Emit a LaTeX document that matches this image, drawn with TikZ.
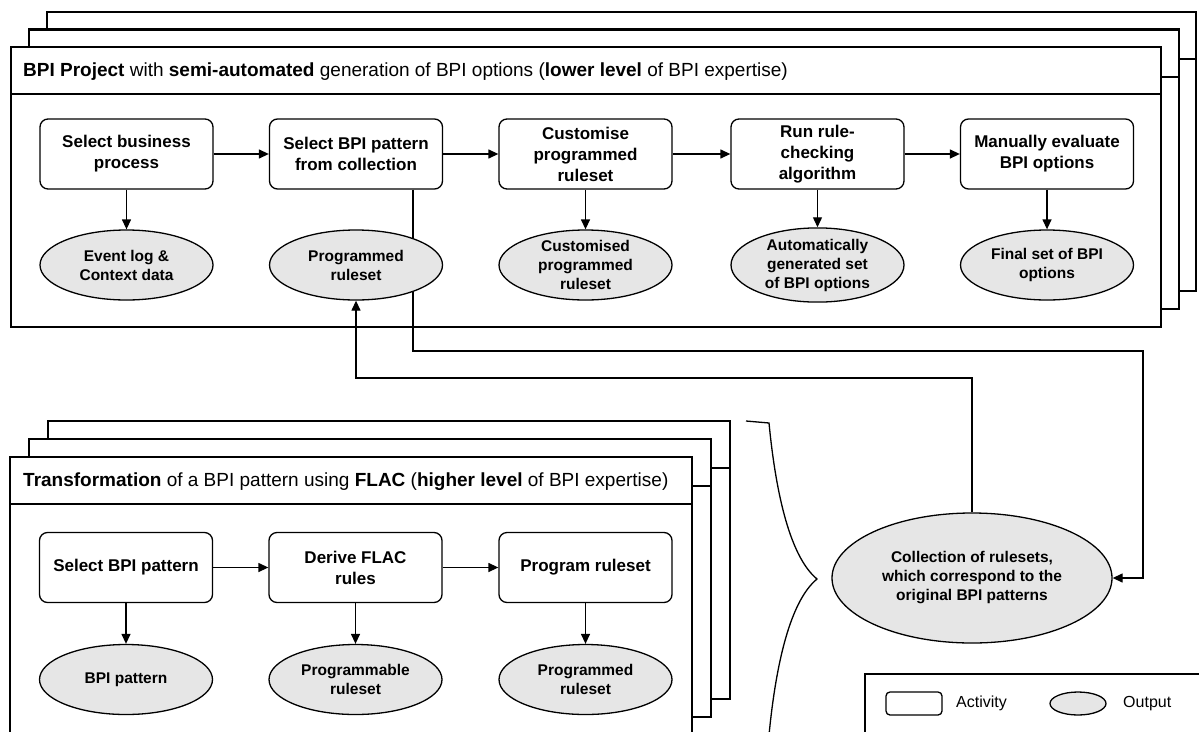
\documentclass[tikz,border=0pt]{standalone}
\usepackage{fontspec}
\setmainfont{Liberation Sans}
\usetikzlibrary{shapes.geometric,arrows.meta}
\definecolor{outfill}{HTML}{E6E6E6}
\pgfdeclarelayer{framelayer}
\pgfdeclarelayer{linelayer}
\pgfsetlayers{framelayer,linelayer,main}
\tikzset{
  frame/.style={draw=black, line width=2.4pt, fill=white},
  divider/.style={draw=black, line width=2.4pt},
  act/.style={draw=black, line width=1.3pt, rounded corners=8pt, fill=white,
    minimum width=173pt, minimum height=70pt, inner sep=2pt, align=center,
    font=\fontsize{17}{21}\selectfont\bfseries},
  outp/.style={ellipse, draw=black, line width=1.3pt, fill=outfill,
    minimum width=173pt, minimum height=70pt, inner sep=0pt, align=center,
    font=\fontsize{15.5}{19}\selectfont\bfseries},
  arr/.style={line width=1.3pt, -{Triangle[length=10pt,width=9pt]}},
  conn/.style={line width=1.3pt},
  hdr/.style={anchor=west, inner sep=0pt, font=\fontsize{19}{22}\selectfont},
  legtxt/.style={anchor=west, inner sep=0pt, font=\fontsize{16}{19}\selectfont}
}
\begin{document}
\begin{tikzpicture}[x=1pt,y=-1pt]
\clip (0,0) rectangle (1199,731);
\useasboundingbox (0,0) rectangle (1199,731);

% ---------- frames ----------
\begin{pgfonlayer}{framelayer}
% top stack
\draw[frame] (47,12) rectangle (1196,291);
\draw[divider] (47,59) -- (1196,59);
\draw[frame] (29,29.5) rectangle (1179,309);
\draw[divider] (29,77) -- (1179,77);
\draw[frame] (11,47) rectangle (1161,327);
\draw[divider] (11,94) -- (1161,94);
% bottom stack
\draw[frame] (48,421) rectangle (730,699);
\draw[divider] (48,468) -- (730,468);
\draw[frame] (29,439) rectangle (711,717);
\draw[divider] (29,486) -- (711,486);
\draw[frame] (10,457) rectangle (692,735);
\draw[divider] (10,504) -- (692,504);
% legend frame
\draw[line width=1.3pt, fill=white] (865,674) rectangle (1215,760);
\end{pgfonlayer}

% ---------- headers ----------
\node[hdr] (h1) at (23,72) {\textbf{BPI Project} with \textbf{semi-automated} generation of BPI options (\textbf{lower level} of BPI expertise)};
\node[hdr] (h2) at (23,482) {\textbf{Transformation} of a BPI pattern using \textbf{FLAC} (\textbf{higher level} of BPI expertise)};

% ---------- top row ----------
\node[act] (a1) at (126.5,154) {Select business\\process};
\node[act] (a2) at (356,154) {Select BPI pattern\\from collection};
\node[act] (a3) at (585.5,154) {Customise\\programmed\\ruleset};
\node[act] (a4) at (817.5,154) {Run rule-\\checking\\algorithm};
\node[act] (a5) at (1047,154) {Manually evaluate\\BPI options};

\node[outp] (e1) at (126.5,265) {Event log \&\\Context data};
\node[outp] (e2) at (356,265) {Programmed\\ruleset};
\node[outp] (e3) at (585.5,265) {Customised\\programmed\\ruleset};
\node[outp] (e4) at (817.5,265) {Automatically\\generated set\\of BPI options};
\node[outp] (e5) at (1047,265) {Final set of BPI\\options};

% ---------- bottom row ----------
\node[act] (b1) at (126,567.5) {Select BPI pattern};
\node[act] (b2) at (355.5,567.5) {Derive FLAC\\rules};
\node[act] (b3) at (585.5,567.5) {Program ruleset};

\node[outp] (f1) at (126,679.5) {BPI pattern};
\node[outp] (f2) at (355.5,679.5) {Programmable\\ruleset};
\node[outp] (f3) at (585.5,679.5) {Programmed\\ruleset};

% ---------- collection ----------
\node[outp, minimum width=280pt, minimum height=130pt] (coll) at (972,578) {Collection of rulesets,\\which correspond to the\\original BPI patterns};

% ---------- legend ----------
\node[draw=black, line width=1.3pt, rounded corners=4pt, fill=white, minimum width=56pt, minimum height=23pt, inner sep=0pt] (lact) at (914,703.5) {};
\node[legtxt] (lacttxt) at (956,703.5) {Activity};
\node[ellipse, draw=black, line width=1.3pt, fill=outfill, minimum width=56pt, minimum height=23pt, inner sep=0pt] (lout) at (1078,703.5) {};
\node[legtxt] (louttxt) at (1123,703.5) {Output};

% ---------- brace ----------
\draw[line width=1.3pt] (746,421) -- (769,423)
  .. controls (775,485) and (788,555) .. (817,579)
  .. controls (788,603) and (775,673) .. (769,735) -- (746,737);

% ---------- connectors ----------
\coordinate (k1) at (413,351);
\coordinate (k2) at (1143,351);
\coordinate (k3) at (356,378);
\begin{pgfonlayer}{linelayer}
\draw[arr] (a1) -- (a2);
\draw[arr] (a2) -- (a3);
\draw[arr] (a3) -- (a4);
\draw[arr] (a4) -- (a5);
\draw[arr] (a1) -- (e1);
\draw[arr] (a3) -- (e3);
\draw[arr] (a4) -- (e4);
\draw[arr] (a5) -- (e5);
\draw[arr] (b1) -- (b2);
\draw[arr] (b2) -- (b3);
\draw[arr] (b1) -- (f1);
\draw[arr] (b2) -- (f2);
\draw[arr] (b3) -- (f3);
\draw[arr] (a2.south -| k1) |- (k2) |- (coll.east);
\draw[arr] (coll.north) |- (k3) -| (e2.south);
\end{pgfonlayer}
\end{tikzpicture}
\end{document}
